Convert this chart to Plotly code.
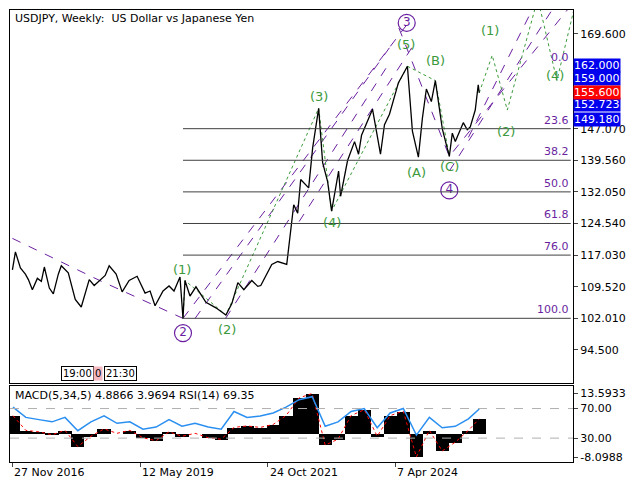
import plotly.graph_objects as go
from plotly.subplots import make_subplots

# ---- price data (weekly close approximations) ----
price_dates = ["2016-11-27","2016-12-18","2017-01-08","2017-01-22","2017-02-26","2017-03-19","2017-04-16","2017-05-21","2017-06-18","2017-07-09","2017-08-13","2017-09-10","2017-10-15","2017-11-05","2017-12-24","2018-02-11","2018-03-25","2018-04-22","2018-05-20","2018-06-24","2018-08-05","2018-09-09","2018-10-07","2018-11-25","2019-01-06","2019-01-27","2019-02-24","2019-04-21","2019-06-16","2019-07-21","2019-08-25","2019-10-20","2019-12-01","2020-01-05","2020-02-16","2020-03-08","2020-03-22","2020-04-26","2020-06-07","2020-08-16","2020-10-25","2021-01-03","2021-02-14","2021-03-28","2021-05-09","2021-07-04","2021-08-15","2021-09-05","2021-11-21","2022-01-02","2022-03-06","2022-04-24","2022-05-22","2022-06-12","2022-08-07","2022-09-04","2022-10-16","2022-11-13","2022-12-18","2023-01-15","2023-03-05","2023-03-19","2023-05-07","2023-06-25","2023-07-23","2023-08-13","2023-10-29","2023-12-24","2024-01-21","2024-02-25","2024-04-28","2024-06-30","2024-08-04","2024-09-15","2024-10-13","2024-11-10","2024-12-15","2025-01-12","2025-02-09","2025-03-02","2025-04-20","2025-05-11","2025-06-01","2025-07-27","2025-08-24","2025-09-14","2025-10-19","2025-11-09","2025-11-16"]
price_vals = [113.5,117.8,115.5,114.0,112.5,111.2,108.8,111.5,110.8,114.2,109.2,107.8,112.5,114.5,112.8,106.5,104.7,107.8,111.2,109.8,111.0,112.2,114.5,112.5,108.3,109.5,111.0,112.0,108.0,108.5,105.0,108.5,109.7,108.5,111.8,102.0,111.0,107.3,109.5,105.8,104.5,102.8,105.5,110.5,108.8,111.0,109.6,109.8,114.8,115.5,114.8,129.0,127.0,135.0,133.0,142.5,151.9,139.0,134.5,127.5,137.0,131.0,139.5,144.0,141.0,145.5,151.7,141.0,148.0,150.5,158.0,161.9,146.5,140.3,149.5,156.5,153.5,158.5,151.5,147.0,140.5,146.0,144.0,148.5,146.8,147.5,151.5,157.5,155.6]

# ---- indicator data (quarterly approximations) ----
ind_dates = ["2016-12-01","2017-03-01","2017-06-01","2017-09-01","2017-12-01","2018-03-01","2018-06-01","2018-09-01","2018-12-01","2019-03-01","2019-06-01","2019-09-01","2019-12-01","2020-03-01","2020-06-01","2020-09-01","2020-12-01","2021-03-01","2021-06-01","2021-09-01","2021-12-01","2022-03-01","2022-06-01","2022-09-01","2022-12-01","2023-03-01","2023-06-01","2023-09-01","2023-12-01","2024-03-01","2024-06-01","2024-09-01","2024-12-01","2025-03-01","2025-06-01","2025-09-01","2025-11-16"]
rsi_vals = [72,58,55,52,58,40,52,60,50,52,42,45,55,46,50,45,42,66,58,60,64,72,82,86,46,52,66,70,44,64,70,34,58,44,46,56,69.35]
macd_vals = [6,1,0.5,-0.5,1,-4.5,-1,1.5,0,1,-1.5,-2.5,0.5,-1,0,-1.5,-2,2,2.5,2,3,6,12,13.5,-4,-2,6,8,-1,6,7.5,-8,1,-6,-3,1,4.89]

# horizontal levels
blue_levels = [162.000, 159.000, 152.723, 149.180]
red_level = 155.600
fib_levels = [147.07, 139.56, 132.05, 124.54, 117.03, 102.01]
fib_names = ["23.6","38.2","50.0","61.8","76.0","100.0"]
price_ticks = [169.6,147.07,139.56,132.05,124.54,117.03,109.52,102.01,94.5]
date_ticks = ["2016-11-27","2019-05-12","2021-10-24","2024-04-07"]
date_labels = ["27 Nov 2016","12 May 2019","24 Oct 2021","7 Apr 2024"]

# wave paths
green_x = ["2020-03-08","2020-03-22","2021-01-03","2022-10-16","2023-01-15","2024-06-30"]
green_y = [102.0,111.0,102.8,151.9,127.5,161.9]
proj_x = ["2025-11-16","2026-02-15","2026-06-01","2027-01-01","2027-05-15","2027-09-30"]
proj_y = [155.6,164.5,151.5,178.0,158.5,178.0]

GREEN = "#3c9a3c"
PURPLE = "#6a1fa0"

fig = make_subplots(rows=2, cols=1, shared_xaxes=True, row_heights=[0.83, 0.17], vertical_spacing=0.006)

for lv in blue_levels:
    fig.add_hline(y=lv, line=dict(color="#0000ee", width=2), row=1, col=1)
fig.add_hline(y=156.6, line=dict(color="#c0c0c0", width=1), row=1, col=1)
fig.add_hline(y=red_level, line=dict(color="#ff0000", width=2), row=1, col=1)
for lv, nm in zip(fib_levels, fib_names):
    fig.add_shape(type="line", x0="2020-03-08", x1="2027-08-20", y0=lv, y1=lv, line=dict(color="#404040", width=1), row=1, col=1)
    fig.add_annotation(x="2027-08-20", y=lv, text=nm, showarrow=False, xanchor="right", yanchor="bottom", font=dict(color=PURPLE, size=11), row=1, col=1)
fig.add_annotation(x="2027-08-20", y=162, text="0.0", showarrow=False, xanchor="right", yanchor="bottom", font=dict(color=PURPLE, size=11), row=1, col=1)

chan = [(["2016-11-27","2018-08-01","2020-03-08"], [121,111,102]),
        (["2020-03-08","2024-07-01"], [102,172]),
        (["2020-06-01","2024-04-01"], [102,168]),
        (["2021-01-01","2024-03-01"], [102,163]),
        (["2022-06-01","2024-09-01"], [125,168]),
        (["2024-05-01","2025-04-20","2027-09-30"], [171,140.5,178]),
        (["2025-04-20","2027-06-01"], [137,178]),
        (["2025-09-01","2027-01-01"], [145,178])]
for cx, cy in chan:
    fig.add_trace(go.Scatter(x=cx, y=cy, mode="lines", line=dict(color=PURPLE, width=1, dash="dash"), hoverinfo="skip"), row=1, col=1)
fig.add_trace(go.Scatter(x=green_x, y=green_y, mode="lines", line=dict(color=GREEN, width=1, dash="dot")), row=1, col=1)
fig.add_trace(go.Scatter(x=["2024-06-30","2025-01-12","2025-04-20"], y=[161.9,158.5,140.5], mode="lines", line=dict(color=GREEN, width=1, dash="dot")), row=1, col=1)
fig.add_trace(go.Scatter(x=proj_x, y=proj_y, mode="lines", line=dict(color=GREEN, width=1, dash="dot")), row=1, col=1)

fig.add_trace(go.Scatter(x=price_dates, y=price_vals, mode="lines", line=dict(color="black", width=1.3)), row=1, col=1)

labels = [("(1)","2020-03-01",113.5),("(2)","2021-01-10",99.3),("(3)","2022-10-16",154.8),("(4)","2023-01-15",124.8),
          ("(5)","2024-06-20",167.0),("(B)","2025-01-12",163.3),("(A)","2024-09-01",136.6),("(C)","2025-04-20",138.2),
          ("(1)","2026-02-01",170.5),("(2)","2026-05-20",146.3),("(4)","2027-05-01",159.7)]
for t, x, y in labels:
    fig.add_annotation(x=x, y=y, text=t, showarrow=False, font=dict(color=GREEN, size=13), row=1, col=1)
circ = [("3","2024-06-25",172.2),("2","2020-03-08",98.5),("4","2025-04-20",132.4)]
fig.add_trace(go.Scatter(x=[c[1] for c in circ], y=[c[2] for c in circ], text=[c[0] for c in circ], mode="markers+text",
                         marker=dict(symbol="circle-open", size=17, color=PURPLE, line=dict(width=1.2)),
                         textposition="middle center", textfont=dict(color=PURPLE, size=12)), row=1, col=1)

base = 36.5
scale = 3.99
macd_mapped = [base + m * scale for m in macd_vals]
fig.add_trace(go.Bar(x=ind_dates, y=[m * scale for m in macd_vals], base=base, width=92*86400000, marker=dict(color="black", line=dict(width=0))), row=2, col=1)
fig.add_trace(go.Scatter(x=ind_dates, y=macd_mapped, mode="lines", line=dict(color="red", width=1, dash="dot")), row=2, col=1)
fig.add_trace(go.Scatter(x=ind_dates, y=rsi_vals, mode="lines", line=dict(color="#2a8ff0", width=1.5)), row=2, col=1)
fig.add_hline(y=70, line=dict(color="#b0b0b0", width=1, dash="dash"), row=2, col=1)
fig.add_hline(y=30, line=dict(color="#b0b0b0", width=1, dash="dash"), row=2, col=1)

fig.update_layout(width=640, height=480, showlegend=False, paper_bgcolor="white", plot_bgcolor="white",
                  margin=dict(l=2, r=75, t=2, b=26), font=dict(family="DejaVu Sans", size=11, color="black"), bargap=0)
fig.update_xaxes(range=["2016-11-10","2027-09-05"], showgrid=False, showline=True, linecolor="black", mirror=True, row=1, col=1)
fig.update_xaxes(range=["2016-11-10","2027-09-05"], showgrid=False, showline=True, linecolor="black", mirror=True,
                 tickvals=date_ticks, ticktext=["" for _ in date_ticks], ticks="outside", ticklen=4, row=2, col=1)
for d, t in zip(date_ticks, date_labels):
    fig.add_annotation(x=d, xref="x2", y=0, yref="paper", text=t, showarrow=False, xanchor="left", yanchor="top", yshift=-2, font=dict(size=11))
fig.update_yaxes(side="right", range=[86.66, 175.27], showgrid=False, showline=True, linecolor="black", mirror=True,
                 tickvals=price_ticks, ticktext=[f"{v:.3f}" for v in price_ticks], ticks="outside", ticklen=4, row=1, col=1)
fig.update_yaxes(side="right", range=[-2.3, 101], showgrid=False, showline=True, linecolor="black", mirror=True,
                 tickvals=[base+13.5933*scale, 70, 30, base-8.0988*scale], ticktext=["13.5933","70.00","30.00","-8.0988"],
                 ticks="outside", ticklen=4, row=2, col=1)

for lv in blue_levels:
    fig.add_annotation(xref="paper", x=1.0, y=lv, yref="y", text=f"{lv:.3f}", showarrow=False, xanchor="left",
                       bgcolor="#0000ee", font=dict(color="white", size=11), borderpad=0)
fig.add_annotation(xref="paper", x=1.0, y=red_level, yref="y", text=f"{red_level:.3f}", showarrow=False, xanchor="left",
                   bgcolor="#ff0000", font=dict(color="white", size=11), borderpad=0)

fig.add_annotation(xref="paper", yref="paper", x=0.005, y=1.0, text="USDJPY, Weekly:  US Dollar vs Japanese Yen", showarrow=False,
                   xanchor="left", yanchor="top", font=dict(size=11))
fig.add_annotation(xref="paper", yref="y2 domain", x=0.005, y=0.98, text="MACD(5,34,5) 4.8866 3.9694 RSI(14) 69.35", showarrow=False,
                   xanchor="left", yanchor="top", font=dict(size=11))
fig.add_annotation(xref="paper", yref="y domain", x=0.09, y=0.005, text="19:00", showarrow=False, xanchor="left", yanchor="bottom",
                   bordercolor="black", borderwidth=1, font=dict(size=10))
fig.add_annotation(xref="paper", yref="y domain", x=0.147, y=0.005, text="0", showarrow=False, xanchor="left", yanchor="bottom",
                   bgcolor="#f4b8c0", font=dict(size=10))
fig.add_annotation(xref="paper", yref="y domain", x=0.167, y=0.005, text="21:30", showarrow=False, xanchor="left", yanchor="bottom",
                   bordercolor="black", borderwidth=1, font=dict(size=10))

fig.write_html("out.html")
